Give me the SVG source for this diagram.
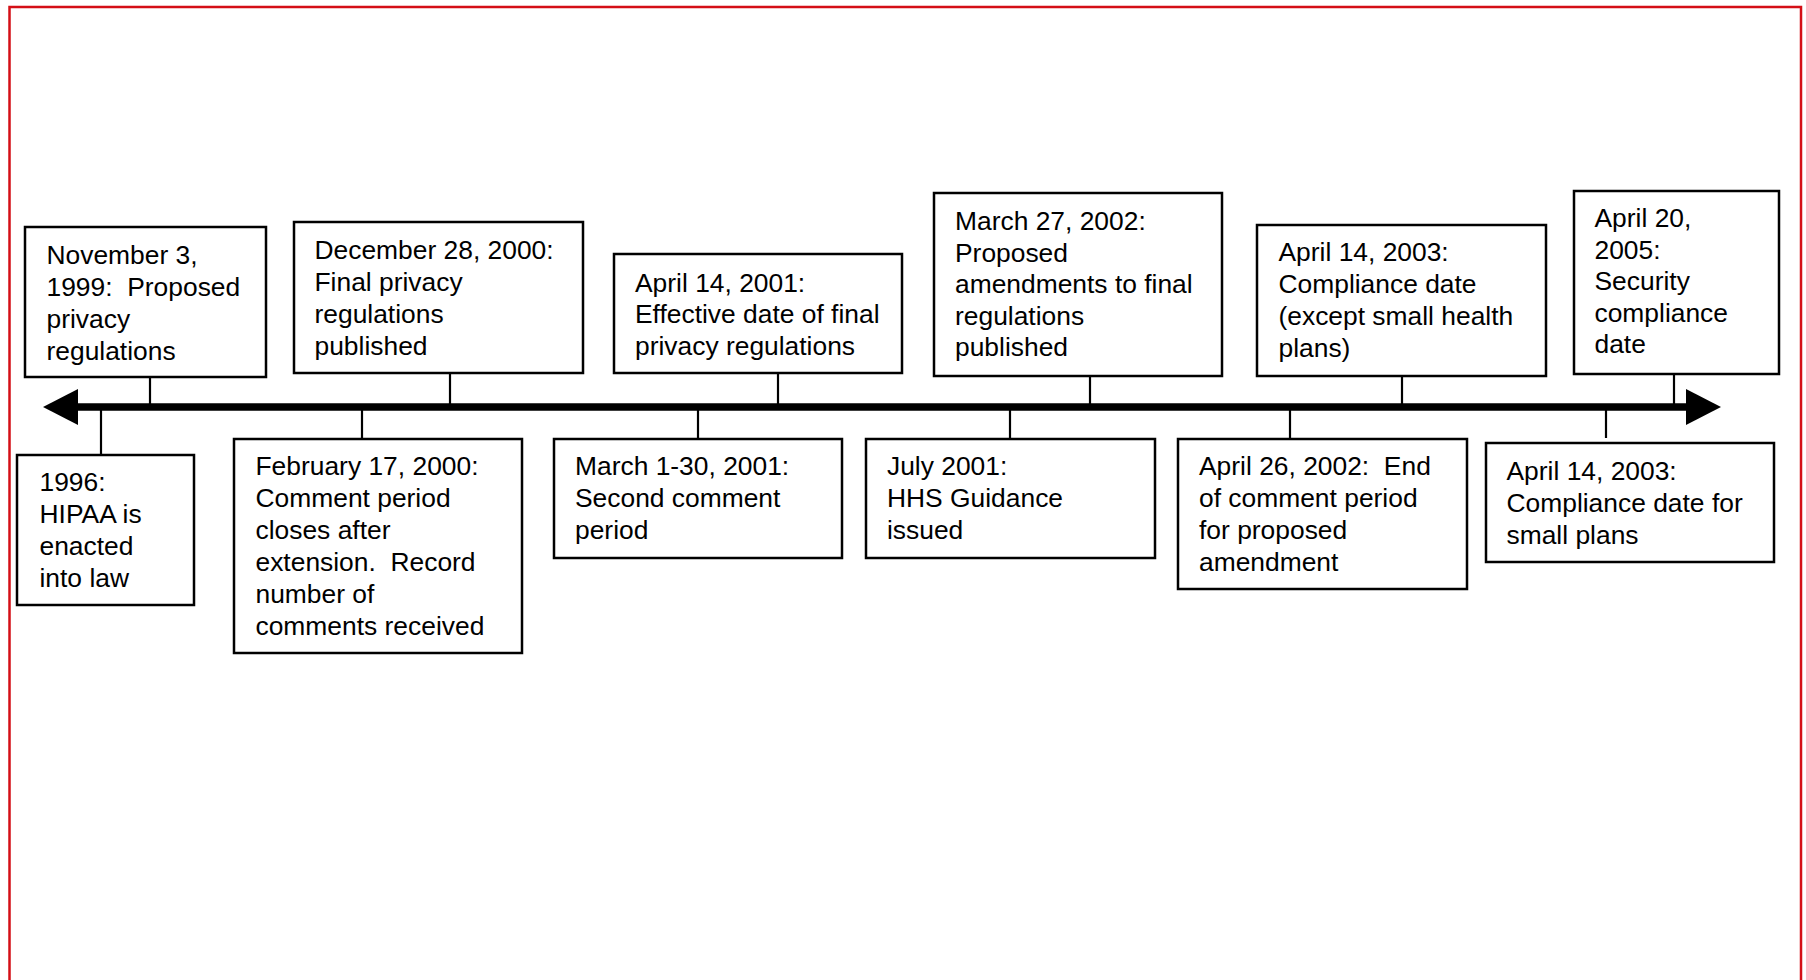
<svg xmlns="http://www.w3.org/2000/svg" width="1806" height="980" viewBox="0 0 1806 980">
<style>
.box{fill:#fff;stroke:#000;stroke-width:2.5}
.tick{stroke:#000;stroke-width:2.2;fill:none}
text{font-family:"Liberation Sans",Arial,sans-serif;font-size:26.4px;fill:#000}
</style>
<rect x="0" y="0" width="1806" height="980" fill="#fff"/>
<rect x="9.5" y="7" width="1791.5" height="1000" fill="none" stroke="#d40f16" stroke-width="2.5"/>
<g id="connectors">
<line x1="75" y1="407" x2="1690" y2="407" stroke="#000" stroke-width="7.5"/>
<polygon points="43,407 78,389 78,425" fill="#000"/>
<polygon points="1721,407 1686,389 1686,425" fill="#000"/>
<line class="tick" x1="150" y1="377" x2="150" y2="407"/>
<line class="tick" x1="450" y1="373" x2="450" y2="407"/>
<line class="tick" x1="778" y1="373" x2="778" y2="407"/>
<line class="tick" x1="1090" y1="376" x2="1090" y2="407"/>
<line class="tick" x1="1402" y1="376" x2="1402" y2="407"/>
<line class="tick" x1="1674" y1="374" x2="1674" y2="407"/>
<line class="tick" x1="101" y1="407" x2="101" y2="455"/>
<line class="tick" x1="362" y1="407" x2="362" y2="439"/>
<line class="tick" x1="698" y1="407" x2="698" y2="439"/>
<line class="tick" x1="1010" y1="407" x2="1010" y2="439"/>
<line class="tick" x1="1290" y1="407" x2="1290" y2="439"/>
<line class="tick" x1="1606" y1="407" x2="1606" y2="438"/>
</g>
<g id="n1999">
<rect class="box" x="25" y="227" width="241" height="150"/>
<text x="46.5" y="263.5">November 3,</text>
<text x="46.5" y="295.5" xml:space="preserve">1999:  Proposed</text>
<text x="46.5" y="327.5">privacy</text>
<text x="46.5" y="359.5">regulations</text>
</g>
<g id="n2000dec">
<rect class="box" x="294" y="222" width="289" height="151"/>
<text x="314.5" y="259">December 28, 2000:</text>
<text x="314.5" y="291">Final privacy</text>
<text x="314.5" y="323">regulations</text>
<text x="314.5" y="355">published</text>
</g>
<g id="n2001apr">
<rect class="box" x="614" y="254" width="288" height="119"/>
<text x="635" y="291.5">April 14, 2001:</text>
<text x="635" y="323">Effective date of final</text>
<text x="635" y="354.5">privacy regulations</text>
</g>
<g id="n2002mar">
<rect class="box" x="934" y="193" width="288" height="183"/>
<text x="955" y="230">March 27, 2002:</text>
<text x="955" y="261.5">Proposed</text>
<text x="955" y="293">amendments to final</text>
<text x="955" y="324.5">regulations</text>
<text x="955" y="356">published</text>
</g>
<g id="n2003apr">
<rect class="box" x="1257" y="225" width="289" height="151"/>
<text x="1278.5" y="261">April 14, 2003:</text>
<text x="1278.5" y="293">Compliance date</text>
<text x="1278.5" y="325">(except small health</text>
<text x="1278.5" y="357">plans)</text>
</g>
<g id="n2005apr">
<rect class="box" x="1574" y="191" width="205" height="183"/>
<text x="1594.5" y="227">April 20,</text>
<text x="1594.5" y="258.5">2005:</text>
<text x="1594.5" y="290">Security</text>
<text x="1594.5" y="321.5">compliance</text>
<text x="1594.5" y="353">date</text>
</g>
<g id="n1996">
<rect class="box" x="17" y="455" width="177" height="150"/>
<text x="39.5" y="491">1996:</text>
<text x="39.5" y="523">HIPAA is</text>
<text x="39.5" y="555">enacted</text>
<text x="39.5" y="587">into law</text>
</g>
<g id="n2000feb">
<rect class="box" x="234" y="439" width="288" height="214"/>
<text x="255.5" y="475">February 17, 2000:</text>
<text x="255.5" y="507">Comment period</text>
<text x="255.5" y="539">closes after</text>
<text x="255.5" y="571" xml:space="preserve">extension.  Record</text>
<text x="255.5" y="603">number of</text>
<text x="255.5" y="635">comments received</text>
</g>
<g id="n2001mar">
<rect class="box" x="554" y="439" width="288" height="119"/>
<text x="575" y="475">March 1-30, 2001:</text>
<text x="575" y="507">Second comment</text>
<text x="575" y="539">period</text>
</g>
<g id="n2001jul">
<rect class="box" x="866" y="439" width="289" height="119"/>
<text x="887" y="475">July 2001:</text>
<text x="887" y="507">HHS Guidance</text>
<text x="887" y="539">issued</text>
</g>
<g id="n2002apr">
<rect class="box" x="1178" y="439" width="289" height="150"/>
<text x="1199" y="475" xml:space="preserve">April 26, 2002:  End</text>
<text x="1199" y="507">of comment period</text>
<text x="1199" y="539">for proposed</text>
<text x="1199" y="571">amendment</text>
</g>
<g id="n2003small">
<rect class="box" x="1486" y="443" width="288" height="119"/>
<text x="1506.5" y="480">April 14, 2003:</text>
<text x="1506.5" y="512">Compliance date for</text>
<text x="1506.5" y="543.5">small plans</text>
</g>
</svg>
